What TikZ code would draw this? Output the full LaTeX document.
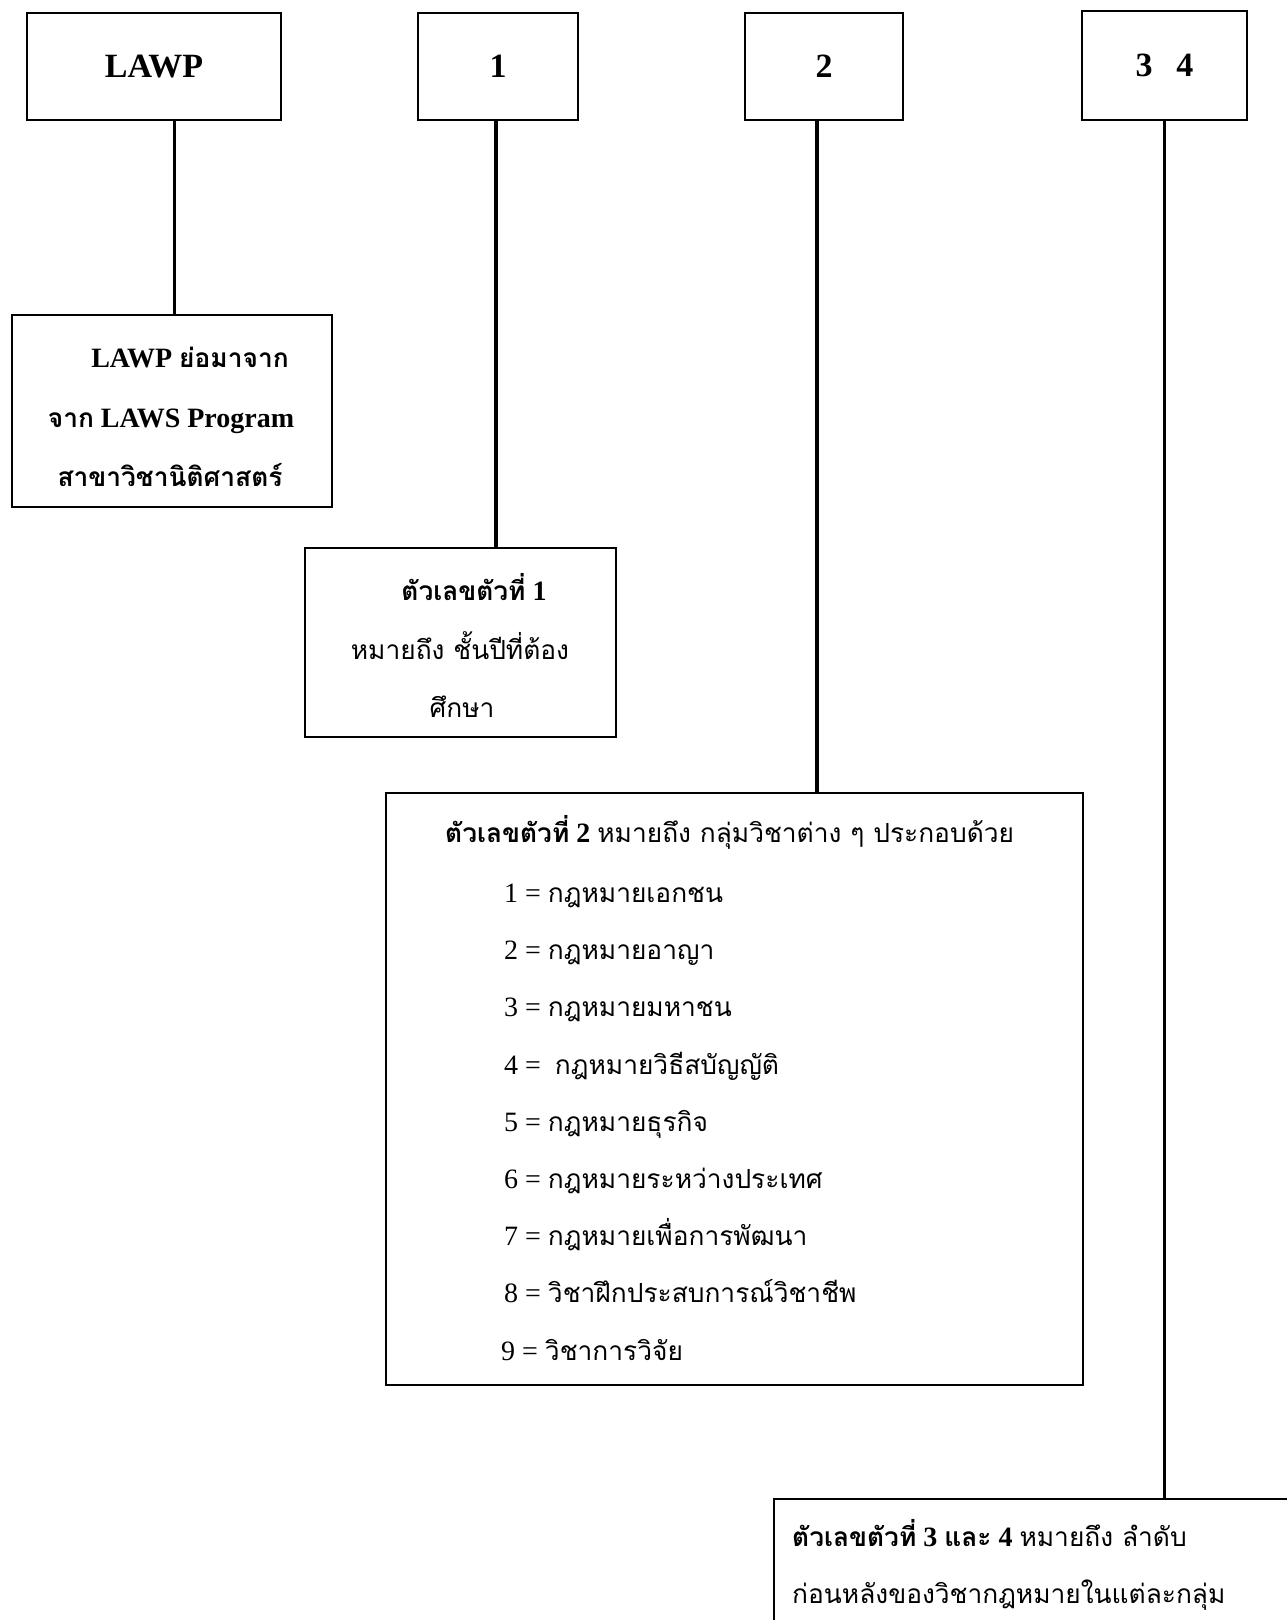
\documentclass[tikz,border=0pt]{standalone}
\usepackage{fontspec}
\setmainfont{Liberation Serif}
\newfontfamily\thaifont[Script=Thai,Scale=0.94]{Loma}
\newcommand\thx[1]{{\thaifont #1}}
\tikzset{
  box/.style={draw, line width=1.5pt, inner sep=0pt},
  conn/.style={draw, line width=3.5pt},
  toplbl/.style={font=\fontsize{34}{40}\selectfont\bfseries},
  ln/.style={inner sep=0pt, font=\fontsize{28}{34}\selectfont},
}
\begin{document}
\begin{tikzpicture}[x=1pt,y=-1pt]
\useasboundingbox (0,0) rectangle (1287,1620);
\clip (0,0) rectangle (1287,1620);
\fill[white] (0,0) rectangle (1287,1620);

% top boxes
\node[box, toplbl, minimum width=254pt, minimum height=107pt] (lawp) at (154,66.5) {LAWP};
\node[box, toplbl, minimum width=160pt, minimum height=107pt] (b1) at (498,66.5) {1};
\node[box, toplbl, minimum width=158pt, minimum height=107pt] (b2) at (824,66.5) {2};
\node[box, toplbl, minimum width=165pt, minimum height=109pt] (b34) at (1164.5,65.5) {3\hspace{24pt}4};

% description boxes
\node[box, minimum width=320pt, minimum height=192pt] (lawpdesc) at (172,411) {};
\node[box, minimum width=311pt, minimum height=189pt] (d1) at (460.5,642.5) {};
\node[box, minimum width=697pt, minimum height=592pt] (d2) at (734.5,1089) {};
\node[box, anchor=north west, minimum width=700pt, minimum height=300pt] (d34) at (773,1498) {};

% connectors
\draw[conn] ([xshift=2.5pt]lawpdesc.north |- lawp.south) -- ([xshift=2.5pt]lawpdesc.north);
\draw[conn] ([xshift=-2pt]b1.south) -- ([xshift=-2pt]b1.south |- d1.north);
\draw[conn] ([xshift=-7pt]b2.south) -- ([xshift=-7pt]b2.south |- d2.north);
\draw[conn] (b34.south) -- (b34.south |- d34.north);

% LAWP description
\node[ln, anchor=base] (a1) at (190,367) {\bfseries LAWP \thx{ย่อมาจาก}};
\node[ln, anchor=base] (a2) at (171,427) {\bfseries \thx{จาก} LAWS Program};
\node[ln, anchor=base] (a3) at (170,486) {\bfseries \thx{สาขาวิชานิติศาสตร์}};

% digit 1 description
\node[ln, anchor=base] (c1) at (474,600) {\bfseries \thx{ตัวเลขตัวที่} 1};
\node[ln, anchor=base] (c2) at (460,659) {\thx{หมายถึง ชั้นปีที่ต้อง}};
\node[ln, anchor=base] (c3) at (462,717) {\thx{ศึกษา}};

% digit 2 description
\node[ln, anchor=base west] (t2) at (445,842) {\textbf{\thx{ตัวเลขตัวที่} 2} \thx{หมายถึง กลุ่มวิชาต่าง ๆ ประกอบด้วย}};
\node[ln, anchor=base west] (i1) at (504,902) {1 = \thx{กฎหมายเอกชน}};
\node[ln, anchor=base west] (i2) at (504,959) {2 = \thx{กฎหมายอาญา}};
\node[ln, anchor=base west] (i3) at (504,1016) {3 = \thx{กฎหมายมหาชน}};
\node[ln, anchor=base west] (i4) at (504,1074) {4 =\ \ \thx{กฎหมายวิธีสบัญญัติ}};
\node[ln, anchor=base west] (i5) at (504,1131) {5 = \thx{กฎหมายธุรกิจ}};
\node[ln, anchor=base west] (i6) at (504,1188) {6 = \thx{กฎหมายระหว่างประเทศ}};
\node[ln, anchor=base west] (i7) at (504,1245) {7 = \thx{กฎหมายเพื่อการพัฒนา}};
\node[ln, anchor=base west] (i8) at (504,1302) {8 = \thx{วิชาฝึกประสบการณ์วิชาชีพ}};
\node[ln, anchor=base west] (i9) at (501,1360) {9 = \thx{วิชาการวิจัย}};

% digits 3 and 4 description
\node[ln, anchor=base west] (e1) at (792,1546) {\textbf{\thx{ตัวเลขตัวที่} 3 \thx{และ} 4} \thx{หมายถึง ลำดับ}};
\node[ln, anchor=base west] (e2) at (792,1603) {\thx{ก่อนหลังของวิชากฎหมายในแต่ละกลุ่ม}};
\end{tikzpicture}
\end{document}
